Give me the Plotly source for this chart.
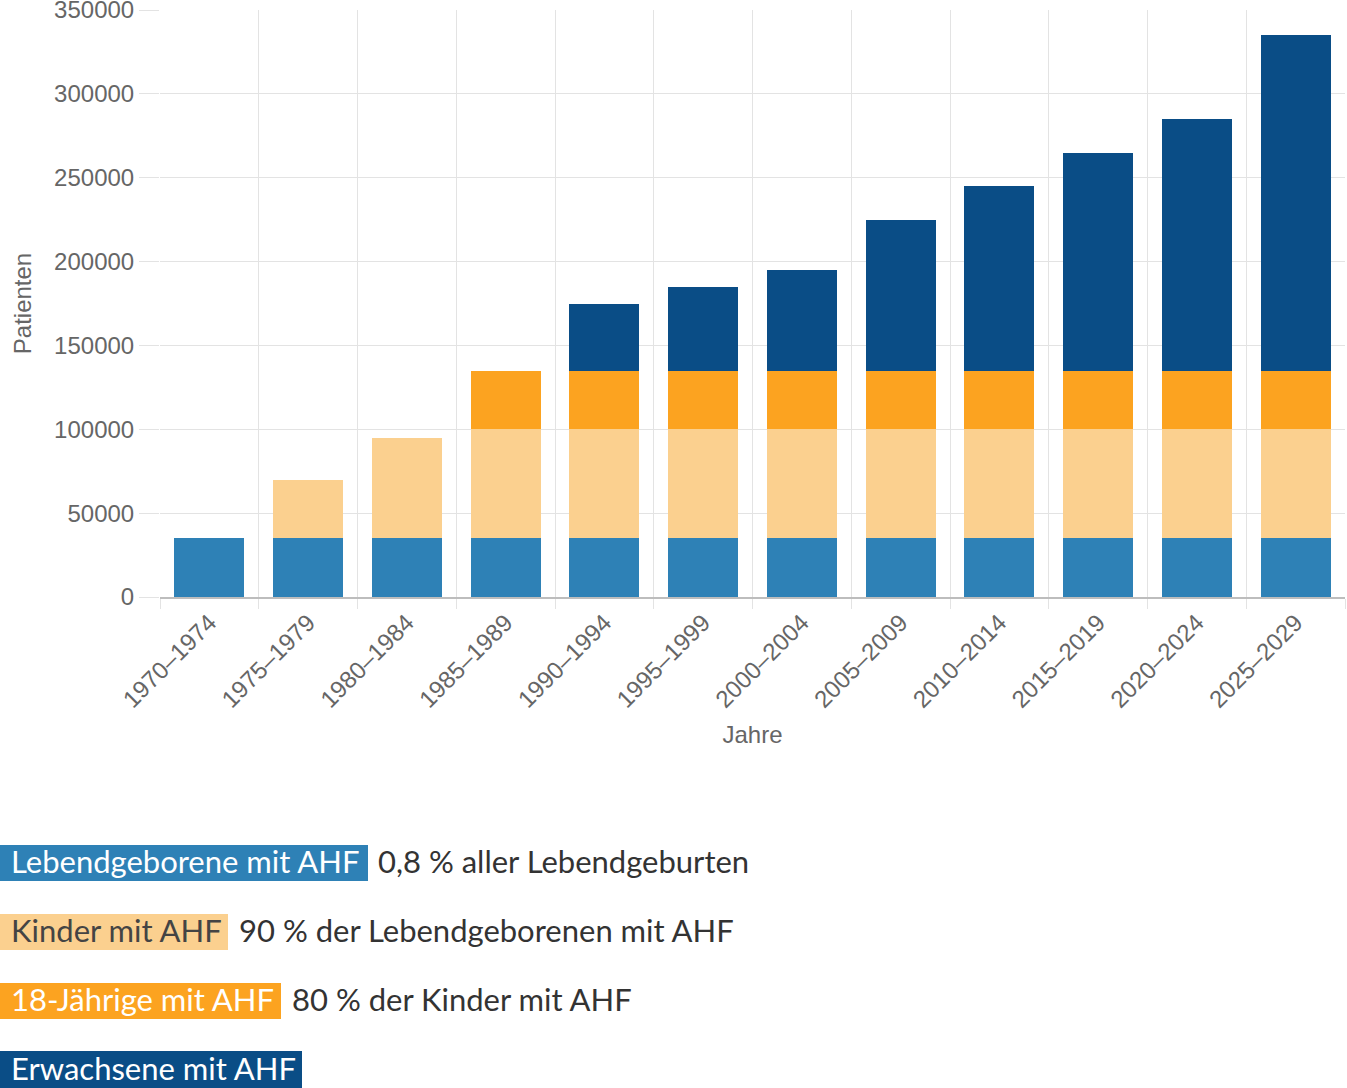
import plotly.graph_objects as go

categories = ["1970–1974", "1975–1979", "1980–1984", "1985–1989", "1990–1994", "1995–1999",
              "2000–2004", "2005–2009", "2010–2014", "2015–2019", "2020–2024", "2025–2029"]
lebendgeborene = [35000] * 12
kinder = [0, 35000, 60000, 65000, 65000, 65000, 65000, 65000, 65000, 65000, 65000, 65000]
achtzehnjaehrige = [0, 0, 0, 35000, 35000, 35000, 35000, 35000, 35000, 35000, 35000, 35000]
erwachsene = [0, 0, 0, 0, 40000, 50000, 60000, 90000, 110000, 130000, 150000, 200000]

series_names = ["Lebendgeborene mit AHF", "Kinder mit AHF", "18-Jährige mit AHF", "Erwachsene mit AHF"]
series_desc = ["0,8 % aller Lebendgeburten", "90 % der Lebendgeborenen mit AHF", "80 % der Kinder mit AHF", ""]
colors = ["#2e81b6", "#fbd08f", "#fca320", "#0a4d86"]
label_text_colors = ["#ffffff", "#444444", "#ffffff", "#ffffff"]

W, H = 1347, 1088
L, R, T, B = 160, 2, 10, 491
PW = W - L - R
PH = H - T - B

def px_x(px):
    return (px - L) / PW

def px_y(py):
    return (H - B - py) / PH

fig = go.Figure()
for name, vals, col in zip(series_names, [lebendgeborene, kinder, achtzehnjaehrige, erwachsene], colors):
    fig.add_trace(go.Bar(x=categories, y=vals, name=name, marker=dict(color=col, line=dict(width=0))))

grid = "#e3e3e3"
tick_font = dict(family="Liberation Sans, Arial, sans-serif", size=24, color="#666666")
fig.update_layout(
    width=W, height=H, autosize=False,
    margin=dict(l=L, r=R, t=T, b=B, pad=0, autoexpand=False),
    barmode="stack", bargap=0.29,
    plot_bgcolor="white", paper_bgcolor="white",
    showlegend=False,
    font=dict(family="Liberation Sans, Arial, sans-serif", color="#666666", size=24),
    xaxis=dict(type="category", tickson="boundaries", showgrid=True, gridcolor=grid, gridwidth=1,
               ticks="outside", ticklen=10, tickcolor=grid, tickangle=-45,
               tickfont=tick_font, automargin=False,
               showline=True, linecolor="#bdbdbd", linewidth=2,
               title=dict(text="Jahre", font=dict(size=24, color="#666666"), standoff=14)),
    yaxis=dict(range=[0, 350000], dtick=50000, tickformat="d", showgrid=True, gridcolor=grid, gridwidth=1,
               ticks="outside", ticklen=20, tickcolor=grid, zeroline=False, ticklabeloverflow="allow",
               tickfont=tick_font, automargin=False,
               title=dict(text="Patienten", font=dict(size=24, color="#666666"), standoff=15)),
)

# custom legend below chart
rows = [(845, 881, 368, 376), (914, 950, 228, 237), (983, 1019, 281, 290), (1051, 1088, 302, 310)]
legend_font = "Lato, Noto Sans, sans-serif"
for i, (y0, y1, bw, dx) in enumerate(rows):
    fig.add_shape(type="rect", xref="paper", yref="paper",
                  x0=px_x(0), x1=px_x(bw), y0=px_y(y1), y1=px_y(y0),
                  fillcolor=colors[i], line=dict(width=0), layer="above")
    yc = px_y((y0 + y1) / 2)
    fig.add_annotation(xref="paper", yref="paper", x=px_x(9), y=yc, xanchor="left", yanchor="middle",
                       text=series_names[i], showarrow=False, yshift=2,
                       font=dict(family=legend_font, size=31, color=label_text_colors[i]))
    if series_desc[i]:
        fig.add_annotation(xref="paper", yref="paper", x=px_x(dx), y=yc, xanchor="left", yanchor="middle",
                           text=series_desc[i], showarrow=False, yshift=2,
                           font=dict(family=legend_font, size=31, color="#333333"))

fig.write_html("out.html", config={"displayModeBar": False},
               post_script="document.body.style.margin='0';document.body.style.overflow='hidden';")
